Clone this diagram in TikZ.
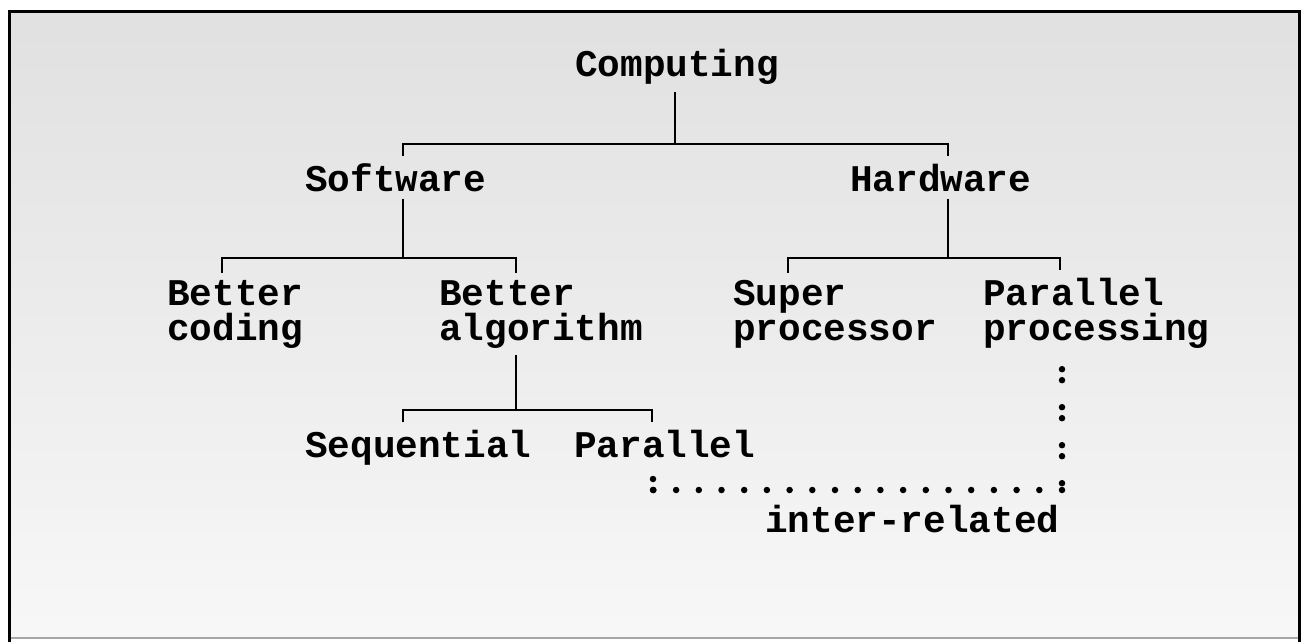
\documentclass[tikz,border=0pt]{standalone}
\usepackage{fontspec}
\newfontfamily\cour{Liberation Mono}
\tikzset{
  lbl/.style={anchor=base west, inner xsep=0pt, inner ysep=7pt, align=left,
    font=\fontsize{37.7}{35}\selectfont\cour\bfseries},
  tree/.style={line width=2.2pt, black},
  vdots/.style={line width=6.5pt, line cap=round, dash pattern=on 0pt off 11pt on 0pt off 27pt},
  hdots/.style={line width=6.5pt, line cap=round, dash pattern=on 0pt off 22.7pt},
}
\begin{document}
\begin{tikzpicture}[x=1pt,y=-1pt]
\useasboundingbox (0,0) rectangle (1305,642);
\fill[white] (0,0) rectangle (1305,642);
% panel
\shade[top color=black!12, bottom color=black!3] (9,12) rectangle (1299,638);
\draw[black!35, line width=1.5pt] (9,638) -- (1299,638);
\draw[line width=3pt] (9,642) -- (9,12) -- (1299,12) -- (1299,642);

% labels
\node[lbl] (comp) at (575,77) {Computing};
\node[lbl] (sw) at (305,191) {Software};
\node[lbl] (hw) at (850,191) {Hardware};
\node[lbl] (bc) at (167,340) {Better\\coding};
\node[lbl] (ba) at (439,340) {Better\\algorithm};
\node[lbl] (sp) at (733,340) {Super\\processor};
\node[lbl] (pp) at (983,340) {Parallel\\processing};
\node[lbl] (seq) at (305,457) {Sequential};
\node[lbl] (par) at (574,457) {Parallel};
\node[lbl] (rel) at (765,532) {inter-related};

% junctions
\coordinate (j1) at (675,144);
\coordinate (h1l) at (403,144);
\coordinate (h1r) at (948,144);
\coordinate (h2m) at (403,258);
\coordinate (h2l) at (222,258);
\coordinate (h2r) at (516,258);
\coordinate (h3m) at (948,258);
\coordinate (h3l) at (788,258);
\coordinate (h3r) at (1060,258);
\coordinate (h4m) at (516,410);
\coordinate (h4l) at (403,410);
\coordinate (h4r) at (652,410);
\coordinate (dc) at (1062,490);
\coordinate (dl) at (653,490);

% tree
\draw[tree] (comp.south -| j1) -- (j1);
\draw[tree] (sw.north -| h1l) -- (h1l) -- (h1r) -- (hw.north -| h1r);
\draw[tree] (sw.south -| h2m) -- (h2m);
\draw[tree] (bc.north -| h2l) -- (h2l) -- (h2r) -- (ba.north -| h2r);
\draw[tree] (hw.south -| h3m) -- (h3m);
\draw[tree] (sp.north -| h3l) -- (h3l) -- (h3r) -- (pp.north -| h3r);
\draw[tree] (ba.south -| h4m) -- (h4m);
\draw[tree] (seq.north -| h4l) -- (h4l) -- (h4r) -- (par.north -| h4r);

% dotted inter-relation
\draw[vdots, shorten <=14pt] (pp.south -| dc) -- (dc);
\draw[hdots] (dc) -- (dl);
\draw[vdots] (dl) -- ++(0,-12);
\end{tikzpicture}
\end{document}
